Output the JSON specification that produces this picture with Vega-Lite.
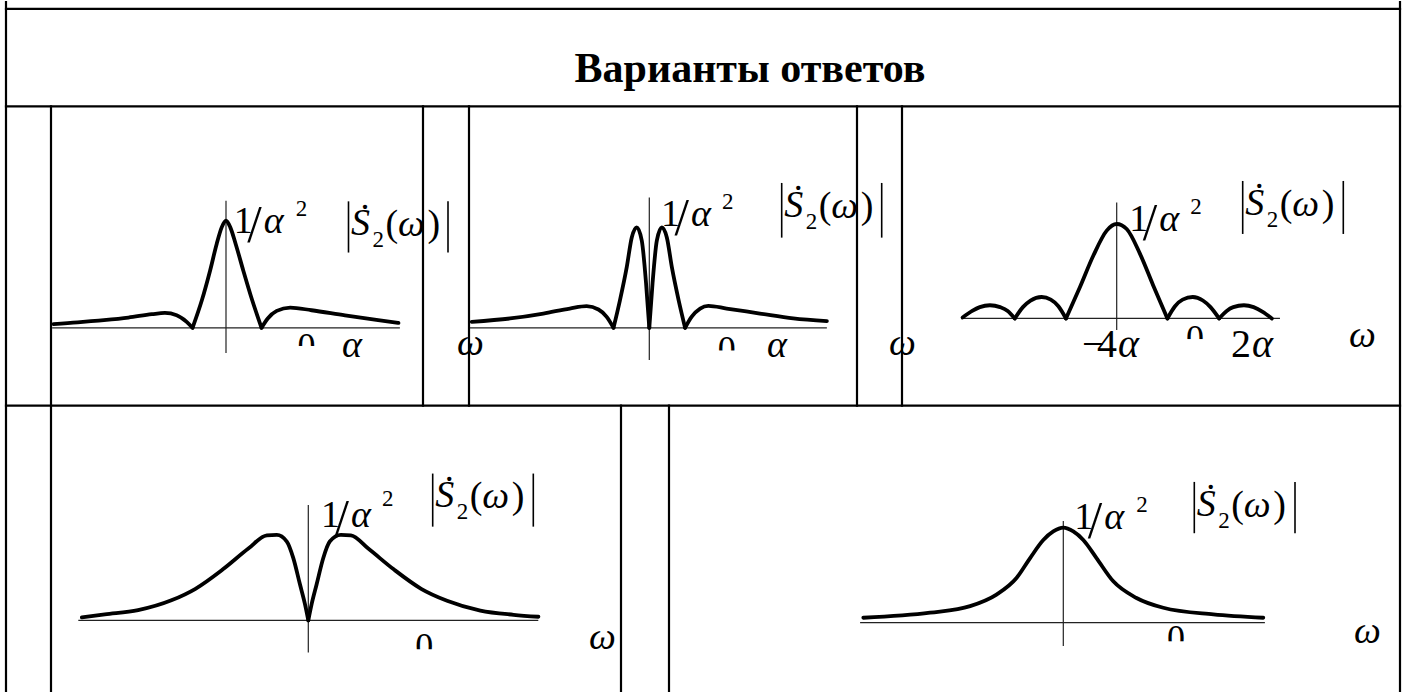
{
  "$schema": "https://vega.github.io/schema/vega-lite/v6.json",
  "width": 1408,
  "height": 693,
  "autosize": {"type": "fit", "contains": "padding"},
  "padding": 0,
  "background": "white",
  "config": {"view": {"stroke": null}, "text": {"font": "Liberation Serif", "color": "black"}},
  "datasets": {
    "table": [
      {"x": 6, "y": 0, "x2": 6, "y2": 693},
      {"x": 1400, "y": 0, "x2": 1400, "y2": 693},
      {"x": 6, "y": 7, "x2": 1400, "y2": 7},
      {"x": 6, "y": 105, "x2": 1400, "y2": 105},
      {"x": 6, "y": 406, "x2": 1400, "y2": 406},
      {"x": 51, "y": 105, "x2": 51, "y2": 693},
      {"x": 423, "y": 105, "x2": 423, "y2": 406},
      {"x": 469, "y": 105, "x2": 469, "y2": 406},
      {"x": 857, "y": 105, "x2": 857, "y2": 406},
      {"x": 902, "y": 105, "x2": 902, "y2": 406},
      {"x": 621, "y": 406, "x2": 621, "y2": 693},
      {"x": 669, "y": 406, "x2": 669, "y2": 693}
    ],
    "bars": [
      {"x": 348.5, "x2": 348.5, "y": 200.5, "y2": 252}, {"x": 448, "x2": 448, "y": 200.5, "y2": 252},
      {"x": 781.7, "x2": 781.7, "y": 182, "y2": 237}, {"x": 881.7, "x2": 881.7, "y": 182, "y2": 237},
      {"x": 1242.7, "x2": 1242.7, "y": 180, "y2": 233.3}, {"x": 1343.3, "x2": 1343.3, "y": 180, "y2": 233.3},
      {"x": 432.7, "x2": 432.7, "y": 474.3, "y2": 527.7}, {"x": 533.3, "x2": 533.3, "y": 474.3, "y2": 527.7},
      {"x": 1194.3, "x2": 1194.3, "y": 482.7, "y2": 534.3}, {"x": 1295, "x2": 1295, "y": 482.7, "y2": 534.3}
    ],
    "it36": [
      {"t": "α", "x": 263.7, "y": 232}, {"t": "S", "x": 351, "y": 234.5}, {"t": "ω", "x": 398, "y": 235.5}, {"t": "α", "x": 342, "y": 357}, {"t": "ω", "x": 457, "y": 355},
      {"t": "α", "x": 691, "y": 225}, {"t": "S", "x": 784.2, "y": 216}, {"t": "ω", "x": 831.2, "y": 217}, {"t": "α", "x": 767, "y": 357}, {"t": "ω", "x": 889, "y": 355},
      {"t": "α", "x": 1159.3, "y": 230}, {"t": "S", "x": 1245.2, "y": 214}, {"t": "ω", "x": 1292.2, "y": 215}, {"t": "ω", "x": 1349, "y": 347},
      {"t": "α", "x": 351, "y": 528}, {"t": "S", "x": 435.2, "y": 508.3}, {"t": "ω", "x": 482.2, "y": 509.3}, {"t": "ω", "x": 589, "y": 651},
      {"t": "α", "x": 1104.3, "y": 530}, {"t": "S", "x": 1196.8, "y": 516.7}, {"t": "ω", "x": 1243.8, "y": 517.7}, {"t": "ω", "x": 1354, "y": 645}
    ],
    "rm36": [
      {"t": "1", "x": 233.7, "y": 232}, {"t": "(", "x": 385.5, "y": 235.5}, {"t": ")", "x": 427.5, "y": 235.5},
      {"t": "1", "x": 661, "y": 225}, {"t": "(", "x": 818.7, "y": 217}, {"t": ")", "x": 860.7, "y": 217},
      {"t": "1", "x": 1129.3, "y": 230}, {"t": "(", "x": 1279.7, "y": 215}, {"t": ")", "x": 1321.7, "y": 215},
      {"t": "1", "x": 321, "y": 528}, {"t": "(", "x": 469.7, "y": 509.3}, {"t": ")", "x": 511.7, "y": 509.3},
      {"t": "1", "x": 1074.3, "y": 530}, {"t": "(", "x": 1231.3, "y": 517.7}, {"t": ")", "x": 1273.3, "y": 517.7}
    ],
    "slash": [
      {"t": "/", "x": 247.2, "y": 241}, {"t": "/", "x": 674.5, "y": 234}, {"t": "/", "x": 1142.8, "y": 239}, {"t": "/", "x": 334.5, "y": 537}, {"t": "/", "x": 1087.8, "y": 539}
    ],
    "small": [
      {"t": "2", "x": 295.7, "y": 215}, {"t": "2", "x": 372.5, "y": 246.5},
      {"t": "2", "x": 722, "y": 208}, {"t": "2", "x": 805.7, "y": 228},
      {"t": "2", "x": 1190.3, "y": 213}, {"t": "2", "x": 1266.7, "y": 226},
      {"t": "2", "x": 382, "y": 507}, {"t": "2", "x": 456.7, "y": 520.3},
      {"t": "2", "x": 1136.3, "y": 513}, {"t": "2", "x": 1218.3, "y": 528.7}
    ],
    "dots": [
      {"t": ".", "x": 365, "y": 208}, {"t": ".", "x": 798.2, "y": 189.5}, {"t": ".", "x": 1259.2, "y": 187.5}, {"t": ".", "x": 449.2, "y": 481.8}, {"t": ".", "x": 1210.8, "y": 490.2}
    ],
    "zeros": [
      {"t": "0", "x": 306.5, "y": 357.6}, {"t": "0", "x": 726.7, "y": 361}, {"t": "0", "x": 1195, "y": 350}, {"t": "0", "x": 424.2, "y": 660}, {"t": "0", "x": 1176, "y": 652}
    ],
    "masks": [
      {"x": 294, "x2": 319, "y": 346, "y2": 363}, {"x": 714, "x2": 740, "y": 350.5, "y2": 367}, {"x": 1183, "x2": 1208, "y": 339, "y2": 356}, {"x": 411, "x2": 438, "y": 651, "y2": 667}, {"x": 1163, "x2": 1190, "y": 643, "y2": 659}
    ],
    "rm38": [
      {"t": "−", "x": 1082, "y": 357}, {"t": "4", "x": 1097, "y": 357}, {"t": "2", "x": 1231, "y": 357}
    ],
    "it38": [
      {"t": "α", "x": 1118, "y": 357}, {"t": "α", "x": 1252, "y": 357}
    ],
    "title": [
      {"t": "Варианты ответов", "x": 750, "y": 80}
    ],
    "p1": [
      {"lobe": "a", "w": -5.0, "A": 0.034}, {"lobe": "a", "w": -4.3, "A": 0.05}, {"lobe": "a", "w": -3.8, "A": 0.065}, {"lobe": "a", "w": -2.83, "A": 0.096}, {"lobe": "a", "w": -2.15, "A": 0.127}, {"lobe": "a", "w": -1.77, "A": 0.139}, {"lobe": "a", "w": -1.43, "A": 0.118}, {"lobe": "a", "w": -1.14, "A": 0.056}, {"lobe": "a", "w": -0.97, "A": 0},
      {"lobe": "b", "w": -0.97, "A": 0}, {"lobe": "b", "w": -0.7, "A": 0.257}, {"lobe": "b", "w": -0.46, "A": 0.536}, {"lobe": "b", "w": -0.27, "A": 0.783}, {"lobe": "b", "w": -0.125, "A": 0.938}, {"lobe": "b", "w": 0, "A": 1}, {"lobe": "b", "w": 0.125, "A": 0.938}, {"lobe": "b", "w": 0.28, "A": 0.783}, {"lobe": "b", "w": 0.5, "A": 0.536}, {"lobe": "b", "w": 0.76, "A": 0.257}, {"lobe": "b", "w": 1.03, "A": 0},
      {"lobe": "c", "w": 1.03, "A": 0}, {"lobe": "c", "w": 1.21, "A": 0.087}, {"lobe": "c", "w": 1.47, "A": 0.158}, {"lobe": "c", "w": 1.86, "A": 0.189}, {"lobe": "c", "w": 2.48, "A": 0.164}, {"lobe": "c", "w": 3.45, "A": 0.115}, {"lobe": "c", "w": 4.41, "A": 0.071}, {"lobe": "c", "w": 5.0, "A": 0.046}
    ],
    "p2": [
      {"lobe": "a", "w": -4.96, "A": 0.059}, {"lobe": "a", "w": -3.89, "A": 0.093}, {"lobe": "a", "w": -2.96, "A": 0.142}, {"lobe": "a", "w": -2.22, "A": 0.192}, {"lobe": "a", "w": -1.75, "A": 0.215}, {"lobe": "a", "w": -1.42, "A": 0.182}, {"lobe": "a", "w": -1.19, "A": 0.109}, {"lobe": "a", "w": -1.0, "A": 0},
      {"lobe": "b", "w": -1.0, "A": 0}, {"lobe": "b", "w": -0.82, "A": 0.274}, {"lobe": "b", "w": -0.63, "A": 0.604}, {"lobe": "b", "w": -0.49, "A": 0.9}, {"lobe": "b", "w": -0.35, "A": 1.0}, {"lobe": "b", "w": -0.21, "A": 0.868}, {"lobe": "b", "w": -0.09, "A": 0.44}, {"lobe": "b", "w": 0, "A": 0},
      {"lobe": "c", "w": 0, "A": 0}, {"lobe": "c", "w": 0.09, "A": 0.44}, {"lobe": "c", "w": 0.21, "A": 0.868}, {"lobe": "c", "w": 0.35, "A": 1.0}, {"lobe": "c", "w": 0.49, "A": 0.9}, {"lobe": "c", "w": 0.63, "A": 0.604}, {"lobe": "c", "w": 0.82, "A": 0.274}, {"lobe": "c", "w": 1.0, "A": 0},
      {"lobe": "d", "w": 1.0, "A": 0}, {"lobe": "d", "w": 1.18, "A": 0.109}, {"lobe": "d", "w": 1.42, "A": 0.192}, {"lobe": "d", "w": 1.65, "A": 0.218}, {"lobe": "d", "w": 2.16, "A": 0.192}, {"lobe": "d", "w": 3.09, "A": 0.142}, {"lobe": "d", "w": 4.02, "A": 0.093}, {"lobe": "d", "w": 4.96, "A": 0.066}
    ],
    "p3": [
      {"lobe": "a", "w": -3.04, "A": 0.01}, {"lobe": "a", "w": -2.85, "A": 0.08}, {"lobe": "a", "w": -2.7, "A": 0.12}, {"lobe": "a", "w": -2.5, "A": 0.14}, {"lobe": "a", "w": -2.3, "A": 0.12}, {"lobe": "a", "w": -2.15, "A": 0.08}, {"lobe": "a", "w": -2.01, "A": 0},
      {"lobe": "b", "w": -2.01, "A": 0}, {"lobe": "b", "w": -1.85, "A": 0.12}, {"lobe": "b", "w": -1.7, "A": 0.19}, {"lobe": "b", "w": -1.48, "A": 0.227}, {"lobe": "b", "w": -1.3, "A": 0.2}, {"lobe": "b", "w": -1.15, "A": 0.13}, {"lobe": "b", "w": -1.0, "A": 0},
      {"lobe": "c", "w": -1.0, "A": 0}, {"lobe": "c", "w": -0.724, "A": 0.333}, {"lobe": "c", "w": -0.46, "A": 0.666}, {"lobe": "c", "w": -0.197, "A": 0.93}, {"lobe": "c", "w": 0, "A": 1}, {"lobe": "c", "w": 0.197, "A": 0.947}, {"lobe": "c", "w": 0.46, "A": 0.684}, {"lobe": "c", "w": 0.72, "A": 0.35}, {"lobe": "c", "w": 1.0, "A": 0},
      {"lobe": "d", "w": 1.0, "A": 0}, {"lobe": "d", "w": 1.15, "A": 0.13}, {"lobe": "d", "w": 1.3, "A": 0.2}, {"lobe": "d", "w": 1.5, "A": 0.227}, {"lobe": "d", "w": 1.7, "A": 0.19}, {"lobe": "d", "w": 1.85, "A": 0.12}, {"lobe": "d", "w": 2.02, "A": 0},
      {"lobe": "e", "w": 2.02, "A": 0}, {"lobe": "e", "w": 2.17, "A": 0.08}, {"lobe": "e", "w": 2.3, "A": 0.12}, {"lobe": "e", "w": 2.51, "A": 0.14}, {"lobe": "e", "w": 2.7, "A": 0.12}, {"lobe": "e", "w": 2.88, "A": 0.07}, {"lobe": "e", "w": 3.06, "A": 0}
    ],
    "p4": [
      {"lobe": "a", "w": -6.12, "A": 0.035}, {"lobe": "a", "w": -5.5, "A": 0.07}, {"lobe": "a", "w": -4.6, "A": 0.12}, {"lobe": "a", "w": -3.7, "A": 0.235}, {"lobe": "a", "w": -3.05, "A": 0.37}, {"lobe": "a", "w": -2.3, "A": 0.6}, {"lobe": "a", "w": -1.62, "A": 0.84}, {"lobe": "a", "w": -1.12, "A": 0.995}, {"lobe": "a", "w": -0.85, "A": 1.0}, {"lobe": "a", "w": -0.58, "A": 0.922}, {"lobe": "a", "w": -0.405, "A": 0.729}, {"lobe": "a", "w": -0.224, "A": 0.419}, {"lobe": "a", "w": -0.09, "A": 0.19}, {"lobe": "a", "w": 0, "A": 0},
      {"lobe": "b", "w": 0, "A": 0}, {"lobe": "b", "w": 0.09, "A": 0.19}, {"lobe": "b", "w": 0.224, "A": 0.42}, {"lobe": "b", "w": 0.405, "A": 0.73}, {"lobe": "b", "w": 0.58, "A": 0.922}, {"lobe": "b", "w": 0.88, "A": 1.0}, {"lobe": "b", "w": 1.15, "A": 0.995}, {"lobe": "b", "w": 1.62, "A": 0.84}, {"lobe": "b", "w": 2.3, "A": 0.6}, {"lobe": "b", "w": 3.05, "A": 0.37}, {"lobe": "b", "w": 3.75, "A": 0.23}, {"lobe": "b", "w": 4.65, "A": 0.115}, {"lobe": "b", "w": 5.55, "A": 0.066}, {"lobe": "b", "w": 6.22, "A": 0.043}
    ],
    "p5": [
      {"lobe": "a", "w": -5.0, "A": 0.052}, {"lobe": "a", "w": -3.33, "A": 0.105}, {"lobe": "a", "w": -2.33, "A": 0.174}, {"lobe": "a", "w": -1.67, "A": 0.296}, {"lobe": "a", "w": -1.17, "A": 0.47}, {"lobe": "a", "w": -0.83, "A": 0.68}, {"lobe": "a", "w": -0.5, "A": 0.87}, {"lobe": "a", "w": -0.25, "A": 0.96}, {"lobe": "a", "w": 0, "A": 1}, {"lobe": "a", "w": 0.25, "A": 0.96}, {"lobe": "a", "w": 0.5, "A": 0.87}, {"lobe": "a", "w": 0.83, "A": 0.68}, {"lobe": "a", "w": 1.25, "A": 0.435}, {"lobe": "a", "w": 1.83, "A": 0.26}, {"lobe": "a", "w": 2.5, "A": 0.157}, {"lobe": "a", "w": 3.75, "A": 0.087}, {"lobe": "a", "w": 5.0, "A": 0.052}
    ]
  },
  "layer": [
    {
      "encoding": {
        "x": {"field": "x", "type": "quantitative", "scale": {"domain": [0, 1408], "nice": false, "zero": false}, "axis": null},
        "y": {"field": "y", "type": "quantitative", "scale": {"domain": [0, 693], "nice": false, "zero": false, "reverse": true}, "axis": null}
      },
      "layer": [
        {"data": {"name": "table"}, "mark": {"type": "rule", "color": "black", "strokeWidth": 2.2, "strokeCap": "square"}, "encoding": {"x2": {"field": "x2"}, "y2": {"field": "y2"}}},
        {"data": {"name": "bars"}, "mark": {"type": "rule", "color": "black", "strokeWidth": 1.6}, "encoding": {"x2": {"field": "x2"}, "y2": {"field": "y2"}}},
        {"data": {"name": "title"}, "mark": {"type": "text", "fontSize": 42, "fontWeight": "bold", "align": "center", "baseline": "alphabetic"}, "encoding": {"text": {"field": "t"}}},
        {"data": {"name": "it36"}, "mark": {"type": "text", "fontSize": 38, "fontStyle": "italic", "align": "left", "baseline": "alphabetic"}, "encoding": {"text": {"field": "t"}}},
        {"data": {"name": "rm36"}, "mark": {"type": "text", "fontSize": 38, "align": "left", "baseline": "alphabetic"}, "encoding": {"text": {"field": "t"}}},
        {"data": {"name": "slash"}, "mark": {"type": "text", "fontSize": 52, "align": "left", "baseline": "alphabetic"}, "encoding": {"text": {"field": "t"}}},
        {"data": {"name": "small"}, "mark": {"type": "text", "fontSize": 23, "align": "left", "baseline": "alphabetic"}, "encoding": {"text": {"field": "t"}}},
        {"data": {"name": "dots"}, "mark": {"type": "text", "fontSize": 36, "align": "center", "baseline": "alphabetic"}, "encoding": {"text": {"field": "t"}}},
        {"data": {"name": "rm38"}, "mark": {"type": "text", "fontSize": 40, "align": "left", "baseline": "alphabetic"}, "encoding": {"text": {"field": "t"}}},
        {"data": {"name": "it38"}, "mark": {"type": "text", "fontSize": 40, "fontStyle": "italic", "align": "left", "baseline": "alphabetic"}, "encoding": {"text": {"field": "t"}}},
        {"data": {"name": "zeros"}, "mark": {"type": "text", "fontSize": 36, "align": "center", "baseline": "alphabetic"}, "encoding": {"text": {"field": "t"}}},
        {"data": {"name": "masks"}, "mark": {"type": "rect", "color": "white", "opacity": 1}, "encoding": {"x2": {"field": "x2"}, "y2": {"field": "y2"}}}
      ]
    },
    {
      "data": {"name": "p1"},
      "encoding": {
        "x": {"field": "w", "type": "quantitative", "scale": {"domain": [-6.55072, 34.26087], "nice": false, "zero": false}, "axis": null},
        "y": {"field": "A", "type": "quantitative", "scale": {"domain": [-3.39183, 3.04271], "nice": false, "zero": false}, "axis": null}
      },
      "layer": [
        {"data": {"values": [{"w": -5.04, "w2": 5.04, "A": 0, "A2": 0}, {"w": 0, "w2": 0, "A": -0.235, "A2": 1.186}]}, "mark": {"type": "rule", "color": "#222", "strokeWidth": 1.2}, "encoding": {"x2": {"field": "w2"}, "y2": {"field": "A2"}}},
        {"mark": {"type": "line", "interpolate": "monotone", "color": "black", "strokeWidth": 3.8, "strokeCap": "round", "strokeJoin": "round"}, "encoding": {"detail": {"field": "lobe", "type": "nominal"}}}
      ]
    },
    {
      "data": {"name": "p2"},
      "encoding": {
        "x": {"field": "w", "type": "quantitative", "scale": {"domain": [-18.13687, 21.19274], "nice": false, "zero": false}, "axis": null},
        "y": {"field": "A", "type": "quantitative", "scale": {"domain": [-3.61683, 3.24455], "nice": false, "zero": false}, "axis": null}
      },
      "layer": [
        {"data": {"values": [{"w": -5.01, "w2": 4.96, "A": 0, "A2": 0}, {"w": 0, "w2": 0, "A": -0.32, "A2": 1.297}]}, "mark": {"type": "rule", "color": "#222", "strokeWidth": 1.2}, "encoding": {"x2": {"field": "w2"}, "y2": {"field": "A2"}}},
        {"mark": {"type": "line", "interpolate": "monotone", "color": "black", "strokeWidth": 3.8, "strokeCap": "round", "strokeJoin": "round"}, "encoding": {"detail": {"field": "lobe", "type": "nominal"}}}
      ]
    },
    {
      "data": {"name": "p3"},
      "encoding": {
        "x": {"field": "w", "type": "quantitative", "scale": {"domain": [-22.02564, 5.74556], "nice": false, "zero": false}, "axis": null},
        "y": {"field": "A", "type": "quantitative", "scale": {"domain": [-3.94421, 3.35053], "nice": false, "zero": false}, "axis": null}
      },
      "layer": [
        {"data": {"values": [{"w": -3.057, "w2": 3.22, "A": 0, "A2": 0}, {"w": 0, "w2": 0, "A": -0.123, "A2": 1.227}]}, "mark": {"type": "rule", "color": "#222", "strokeWidth": 1.2}, "encoding": {"x2": {"field": "w2"}, "y2": {"field": "A2"}}},
        {"mark": {"type": "line", "interpolate": "monotone", "color": "black", "strokeWidth": 3.8, "strokeCap": "round", "strokeJoin": "round"}, "encoding": {"detail": {"field": "lobe", "type": "nominal"}}}
      ]
    },
    {
      "data": {"name": "p4"},
      "encoding": {
        "x": {"field": "w", "type": "quantitative", "scale": {"domain": [-8.33243, 29.72162], "nice": false, "zero": false}, "axis": null},
        "y": {"field": "A", "type": "quantitative", "scale": {"domain": [-0.82558, 7.23256], "nice": false, "zero": false}, "axis": null}
      },
      "layer": [
        {"data": {"values": [{"w": -6.216, "w2": 6.216, "A": 0, "A2": 0}, {"w": 0, "w2": 0, "A": -0.376, "A2": 1.349}]}, "mark": {"type": "rule", "color": "#222", "strokeWidth": 1.2}, "encoding": {"x2": {"field": "w2"}, "y2": {"field": "A2"}}},
        {"mark": {"type": "line", "interpolate": "monotone", "color": "black", "strokeWidth": 3.8, "strokeCap": "round", "strokeJoin": "round"}, "encoding": {"detail": {"field": "lobe", "type": "nominal"}}}
      ]
    },
    {
      "data": {"name": "p5"},
      "encoding": {
        "x": {"field": "w", "type": "quantitative", "scale": {"domain": [-26.5825, 8.6175], "nice": false, "zero": false}, "axis": null},
        "y": {"field": "A", "type": "quantitative", "scale": {"domain": [-0.71862, 6.53033], "nice": false, "zero": false}, "axis": null}
      },
      "layer": [
        {"data": {"values": [{"w": -5.08, "w2": 5.04, "A": 0, "A2": 0}, {"w": 0, "w2": 0, "A": -0.245, "A2": 1.07}]}, "mark": {"type": "rule", "color": "#222", "strokeWidth": 1.2}, "encoding": {"x2": {"field": "w2"}, "y2": {"field": "A2"}}},
        {"mark": {"type": "line", "interpolate": "monotone", "color": "black", "strokeWidth": 3.8, "strokeCap": "round", "strokeJoin": "round"}, "encoding": {"detail": {"field": "lobe", "type": "nominal"}}}
      ]
    }
  ],
  "resolve": {"scale": {"x": "independent", "y": "independent"}}
}
